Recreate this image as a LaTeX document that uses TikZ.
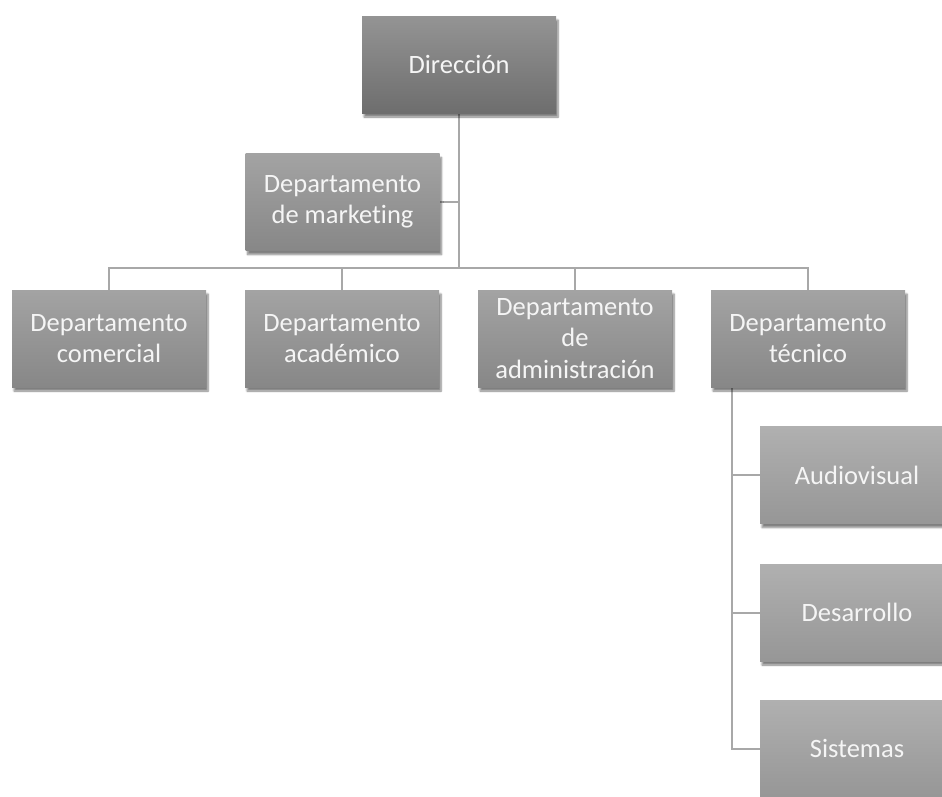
\documentclass[tikz,border=0pt]{standalone}
\usepackage{fontspec}
\setmainfont[Ligatures=NoCommon]{Carlito}
\usetikzlibrary{shadows.blur,backgrounds}
\definecolor{linegray}{HTML}{A8A8A8}
\tikzset{
  box/.style={minimum width=194pt, minimum height=97pt, inner sep=0pt,
    align=center, text=white!96!black, font=\fontsize{26.5}{31.5}\selectfont,
    blur shadow={shadow xshift=2pt, shadow yshift=-4pt, shadow opacity=50, shadow blur steps=6}},
  topbox/.style={box, top color=black!42, bottom color=black!57},
  midbox/.style={box, top color=black!36, bottom color=black!47},
  subbox/.style={box, top color=black!31, bottom color=black!41},
  conn/.style={draw=linegray, line width=2pt}
}
\begin{document}
\begin{tikzpicture}[x=1pt, y=-1pt]
\useasboundingbox (0,0) rectangle (942,796);
\clip (0,0) rectangle (942,796);
% top level
\node[topbox] (dir) at (459,64.5) {Dirección};
\node[midbox] (mkt) at (342.5,202) {Departamento\\de marketing};
% departments
\node[midbox] (com) at (109,338.5) {Departamento\\comercial};
\node[midbox] (aca) at (342,338.5) {Departamento\\académico};
\node[midbox] (adm) at (575,338.5) {Departamento\\de\\administración};
\node[midbox] (tec) at (808,338.5) {Departamento\\técnico};
% technical sub-areas
\node[subbox] (aud) at (857,475) {Audiovisual};
\node[subbox] (des) at (857,612.5) {Desarrollo};
\node[subbox] (sis) at (857,748.5) {Sistemas};
\coordinate (bus) at (459,268);
\coordinate (tx) at (732,387);
\begin{pgfonlayer}{background}
\draw[conn] (dir.south) -- (bus);
\draw[conn] (mkt.east) -- (mkt.east -| dir.south);
\draw[conn] (com.north) |- (bus) -| (tec.north);
\draw[conn] (aca.north) -- (aca.north |- bus);
\draw[conn] (adm.north) -- (adm.north |- bus);
\draw[conn] (tx) |- (aud.west);
\draw[conn] (tx) |- (des.west);
\draw[conn] (tx) |- (sis.west);
\end{pgfonlayer}
\end{tikzpicture}
\end{document}
